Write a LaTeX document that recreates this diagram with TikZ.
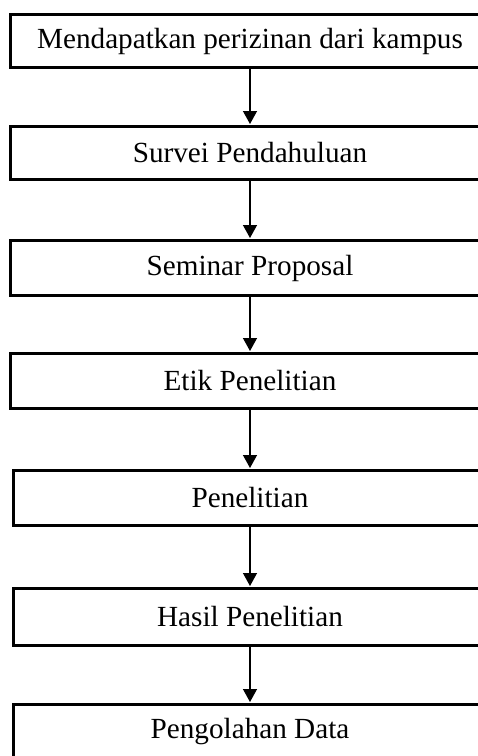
\documentclass[tikz,border=0pt]{standalone}
\usepackage{fontspec}
\setmainfont{Liberation Serif}
\usetikzlibrary{arrows.meta}

\begin{document}
\begin{tikzpicture}[x=1pt, y=-1pt,
    langkah/.style={draw, line width=2.6pt, inner sep=0pt, minimum width=479pt,
        font=\fontsize{29.2}{34}\selectfont},
    panah/.style={line width=1.3pt, shorten >=1.2pt, -{Triangle[width=14pt,length=13pt]}}]
    \useasboundingbox (0,0) rectangle (478,756);

    \node[langkah, minimum height=53pt] (izin) at (250,41) {Mendapatkan perizinan dari kampus};
    \node[langkah, minimum height=53pt] (survei) at (250,153) {Survei Pendahuluan};
    \node[langkah, minimum height=55pt] (seminar) at (250,268) {Seminar Proposal};
    \node[langkah, minimum height=55pt] (etik) at (250,381) {Etik Penelitian};
    \node[langkah, minimum height=55pt, minimum width=473pt] (penelitian) at (250,498) {Penelitian};
    \node[langkah, minimum height=57pt, minimum width=473pt] (hasil) at (250,617) {Hasil Penelitian};
    \node[langkah, minimum height=55pt, minimum width=473pt] (olah) at (250,732) {Pengolahan Data};

    \foreach \dari/\ke in {izin/survei, survei/seminar, seminar/etik, etik/penelitian,
        penelitian/hasil, hasil/olah}
        \draw[panah] (\dari) -- (\ke);
\end{tikzpicture}
\end{document}
